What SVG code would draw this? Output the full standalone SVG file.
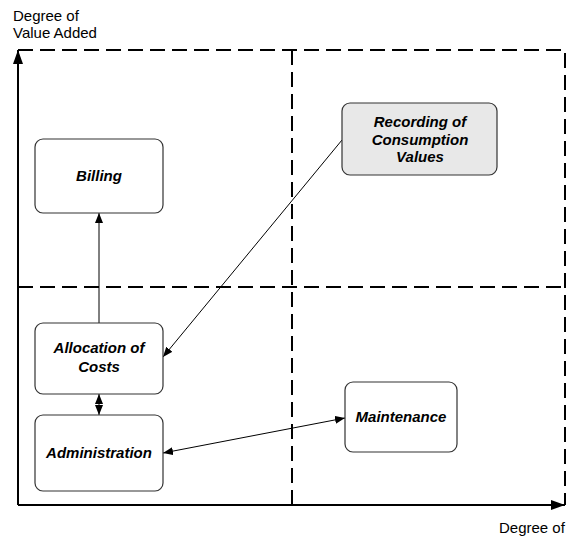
<svg xmlns="http://www.w3.org/2000/svg" width="573" height="538" viewBox="0 0 573 538">
<style>
.lbl{font-family:"Liberation Sans",Arial,sans-serif;font-size:15px;fill:#000}
.nt{font-family:"Liberation Sans",Arial,sans-serif;font-size:15px;font-weight:bold;font-style:italic;fill:#000;text-anchor:middle}
.box{fill:#fff;stroke:#333;stroke-width:1.2}
.dash{fill:none;stroke:#000;stroke-width:2;stroke-dasharray:15 7}
.ax{fill:none;stroke:#000;stroke-width:2}
.con{fill:none;stroke:#000;stroke-width:1}
</style>
<defs>
<marker id="ah" viewBox="0 0 10 8" refX="10" refY="4" markerWidth="10" markerHeight="8" markerUnits="userSpaceOnUse" orient="auto-start-reverse">
<path d="M0,0 L10,4 L0,8 z" fill="#000"/>
</marker>
<marker id="axh" viewBox="0 0 14 10" refX="14" refY="5" markerWidth="14" markerHeight="10" markerUnits="userSpaceOnUse" orient="auto">
<path d="M0,0 L14,5 L0,10 z" fill="#000"/>
</marker>
</defs>
<g id="frame">
<path class="dash" d="M18,50 H565 V505"/>
<path class="dash" d="M292,50 V505"/>
<path class="dash" d="M18,287 H565"/>
<line class="ax" x1="18" y1="505" x2="18" y2="50" marker-end="url(#axh)"/>
<line class="ax" x1="18" y1="505" x2="565" y2="505" marker-end="url(#axh)"/>
<text class="lbl" x="13" y="21">Degree of</text>
<text class="lbl" x="13" y="38">Value Added</text>
<text class="lbl" x="499" y="533">Degree of</text>
</g>
<g id="connectors">
<line class="con" x1="99" y1="323" x2="99" y2="213" marker-end="url(#ah)"/>
<line class="con" x1="99" y1="394" x2="99" y2="415" marker-start="url(#ah)" marker-end="url(#ah)"/>
<line class="con" x1="342" y1="140" x2="163" y2="357" marker-end="url(#ah)"/>
<line class="con" x1="163" y1="453" x2="345" y2="418" marker-start="url(#ah)" marker-end="url(#ah)"/>
</g>
<g id="billing">
<rect class="box" x="35" y="139" width="128" height="74" rx="8"/>
<text class="nt" x="99" y="181">Billing</text>
</g>
<g id="recording">
<rect class="box" x="342" y="103" width="155" height="72" rx="8" style="fill:#e8e8e8"/>
<text class="nt" x="420" y="127">Recording of</text>
<text class="nt" x="420" y="145">Consumption</text>
<text class="nt" x="420" y="162">Values</text>
</g>
<g id="allocation">
<rect class="box" x="35" y="323" width="128" height="71" rx="8"/>
<text class="nt" x="99" y="353">Allocation of</text>
<text class="nt" x="99" y="372">Costs</text>
</g>
<g id="administration">
<rect class="box" x="35" y="415" width="128" height="76" rx="8"/>
<text class="nt" x="99" y="458">Administration</text>
</g>
<g id="maintenance">
<rect class="box" x="345" y="382" width="112" height="70" rx="8"/>
<text class="nt" x="401" y="422">Maintenance</text>
</g>
</svg>
